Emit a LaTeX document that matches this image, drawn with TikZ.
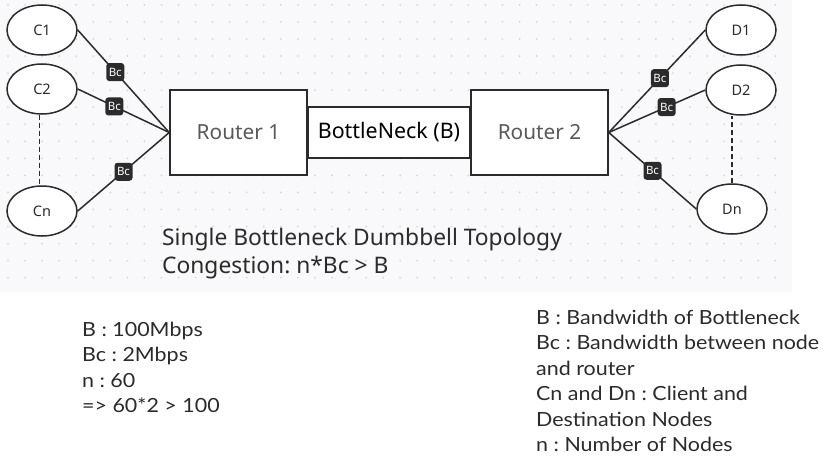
\documentclass[tikz,border=0pt]{standalone}
\usepackage{fontspec}
\setmainfont{Noto Sans}
\newfontfamily\notefont[FakeStretch=1.1]{Lato}
\usetikzlibrary{shapes.geometric,positioning}
\definecolor{canvas}{HTML}{F9F9FB}
\definecolor{griddot}{HTML}{D6D6DC}
\definecolor{ink}{HTML}{2B2B2B}
\tikzset{
  host/.style={draw=ink, ellipse, fill=white, line width=1.5pt, minimum width=70pt, minimum height=50pt, inner sep=0pt, font=\fontsize{14.5}{16}\selectfont, text=ink},
  router/.style={draw=ink, rectangle, fill=white, line width=1.5pt, minimum width=137pt, minimum height=85pt, inner sep=0pt, font=\fontsize{20.8}{24}\selectfont, text=black!65},
  bw/.style={fill=ink, rounded corners=3pt, text=white, minimum size=18pt, inner sep=0pt, font=\fontsize{11.5}{12}\selectfont},
  link/.style={draw=ink, line width=1.5pt},
  title/.style={anchor=base west, inner sep=0pt, text=ink, font=\fontsize{22.8}{28}\selectfont},
  note/.style={anchor=base west, inner sep=0pt, text=ink, font=\notefont\fontsize{19.5}{25.5}\selectfont}
}
\begin{document}
\frenchspacing
\begin{tikzpicture}[x=1pt, y=-1pt]
\useasboundingbox (0,0) rectangle (827,460);
% Draw canvas
\fill[white] (0,0) rectangle (827,460);
\fill[canvas] (0,0) rectangle (792,292);
\foreach \i in {0,...,45}
  \foreach \j in {0,...,16}
    \fill[griddot] ({8+17.05*\i},{4.9+17.05*\j}) circle (1pt);
% Draw routers
\node[router] (r1) at (238.5,132.5) {Router 1};
\node[router, minimum width=161pt, minimum height=51pt, text=black, font=\fontsize{21.4}{24}\selectfont, right=0pt of r1] (neck) {BottleNeck (B)};
\node[router, right=0pt of neck] (r2) {Router 2};
% Draw hosts
\node[host] (c1) at (42,30) {C1};
\node[host] (c2) at (42,89) {C2};
\node[host] (cn) at (42,211) {Cn};
\node[host] (d1) at (741,30) {D1};
\node[host] (d2) at (741,90) {D2};
\node[host] (dn) at (732,209) {Dn};
% Draw links
\draw[link] (c1.east) -- node[bw, pos=0.41] {Bc} (r1.west);
\draw[link] (c2.east) -- node[bw, pos=0.4] {Bc} (r1.west);
\draw[link] (cn.east) -- node[bw, pos=0.5] {Bc} (r1.west);
\draw[link] (d1.west) -- node[bw, pos=0.47] {Bc} (r2.east);
\draw[link] (d2.west) -- node[bw, pos=0.4] {Bc} (r2.east);
\draw[link] (dn.west) -- node[bw, pos=0.5] {Bc} (r2.east);
\draw[link, dash pattern=on 5pt off 3pt] ([xshift=-2.5pt]c2.south) -- ([xshift=-2.5pt]cn.north);
\draw[link, dash pattern=on 5pt off 3pt] (dn.north) -- (d2.south -| dn.north);
% Draw labels
\node[title] (heading) at (162,245.7) {Single Bottleneck Dumbbell Topology};
\node[title] (rule) at (162,273.5) {Congestion: n*Bc > B};
\node[note] (b) at (82,336) {B : 100Mbps};
\node[note] (bc) at (82,361.5) {Bc : 2Mbps};
\node[note] (n) at (82,387) {n : 60};
\node[note] (calc) at (82,412.5) {=> 60*2 > 100};
\node[note] (kb) at (536,324) {B : Bandwidth of Bottleneck};
\node[note] (kbc) at (536,349.5) {Bc : Bandwidth between node};
\node[note] (kbc2) at (536,375) {and router};
\node[note] (kcd) at (536,400.5) {Cn and Dn : Client and};
\node[note] (kcd2) at (536,426) {Destination Nodes};
\node[note] (kn) at (536,451.5) {n : Number of Nodes};
\end{tikzpicture}
\end{document}
